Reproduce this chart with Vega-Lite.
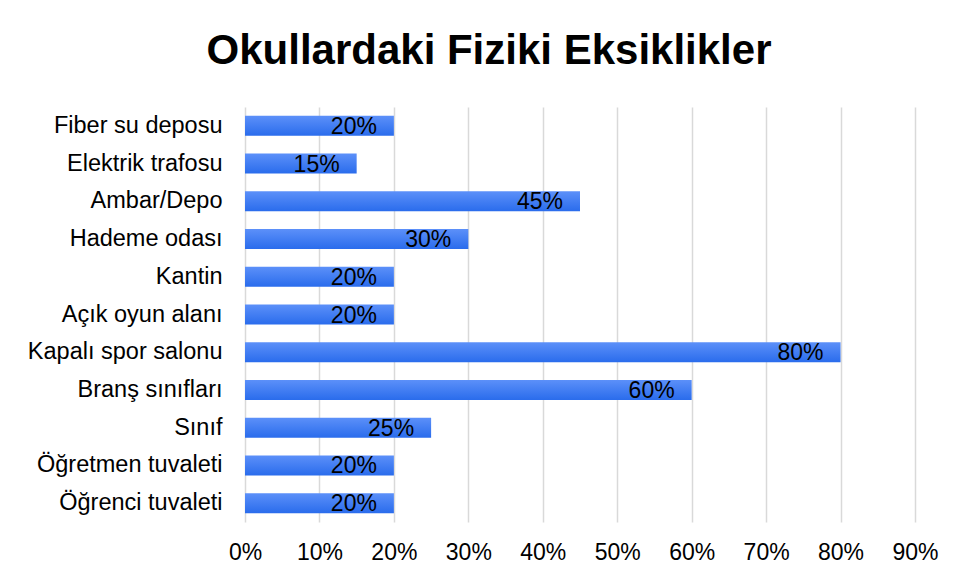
{
  "$schema": "https://vega.github.io/schema/vega-lite/v6.json",
  "autosize": "none",
  "width": 670,
  "height": 415,
  "padding": {"left": 245, "top": 107, "right": 41, "bottom": 57},
  "background": "white",
  "config": {
    "font": "Liberation Sans",
    "view": {"stroke": null}
  },
  "title": {
    "text": "Okullardaki Fiziki Eksiklikler",
    "fontSize": 42,
    "fontWeight": "bold",
    "font": "Liberation Sans",
    "color": "black",
    "anchor": "middle",
    "baseline": "alphabetic",
    "offset": 42,
    "dx": -91,
    "dy": 41
  },
  "data": {
    "values": [
      {"item": "Fiber su deposu", "value": 0.20},
      {"item": "Elektrik trafosu", "value": 0.15},
      {"item": "Ambar/Depo", "value": 0.45},
      {"item": "Hademe odası", "value": 0.30},
      {"item": "Kantin", "value": 0.20},
      {"item": "Açık oyun alanı", "value": 0.20},
      {"item": "Kapalı spor salonu", "value": 0.80},
      {"item": "Branş sınıfları", "value": 0.60},
      {"item": "Sınıf", "value": 0.25},
      {"item": "Öğretmen tuvaleti", "value": 0.20},
      {"item": "Öğrenci tuvaleti", "value": 0.20}
    ]
  },
  "encoding": {
    "y": {
      "field": "item",
      "type": "nominal",
      "sort": null,
      "scale": {"paddingInner": 0.47, "paddingOuter": 0.235},
      "axis": {
        "title": null,
        "domain": false,
        "ticks": false,
        "labelFontSize": 23.5,
        "labelColor": "black",
        "labelPadding": 23,
        "labelLimit": 400,
        "labelFont": "Liberation Sans"
      }
    },
    "x": {
      "field": "value",
      "type": "quantitative",
      "scale": {"domain": [0, 0.9], "nice": false},
      "axis": {
        "title": null,
        "format": ".0%",
        "values": [0, 0.1, 0.2, 0.3, 0.4, 0.5, 0.6, 0.7, 0.8, 0.9],
        "domain": false,
        "ticks": false,
        "labelFlush": false,
        "labelOverlap": false,
        "labelFontSize": 23,
        "labelColor": "black",
        "labelPadding": 19,
        "labelFont": "Liberation Sans",
        "gridColor": "#d9d9d9",
        "gridWidth": 1.5
      }
    }
  },
  "layer": [
    {
      "mark": {
        "type": "bar",
        "color": {
          "x1": 0, "y1": 0, "x2": 0, "y2": 1,
          "gradient": "linear",
          "stops": [
            {"offset": 0, "color": "#5c90f9"},
            {"offset": 1, "color": "#2a6cec"}
          ]
        }
      }
    },
    {
      "mark": {
        "type": "text",
        "align": "right",
        "baseline": "middle",
        "dx": -17,
        "dy": 1,
        "fontSize": 23,
        "color": "black",
        "font": "Liberation Sans"
      },
      "encoding": {
        "text": {"field": "value", "type": "quantitative", "format": ".0%"}
      }
    }
  ]
}
